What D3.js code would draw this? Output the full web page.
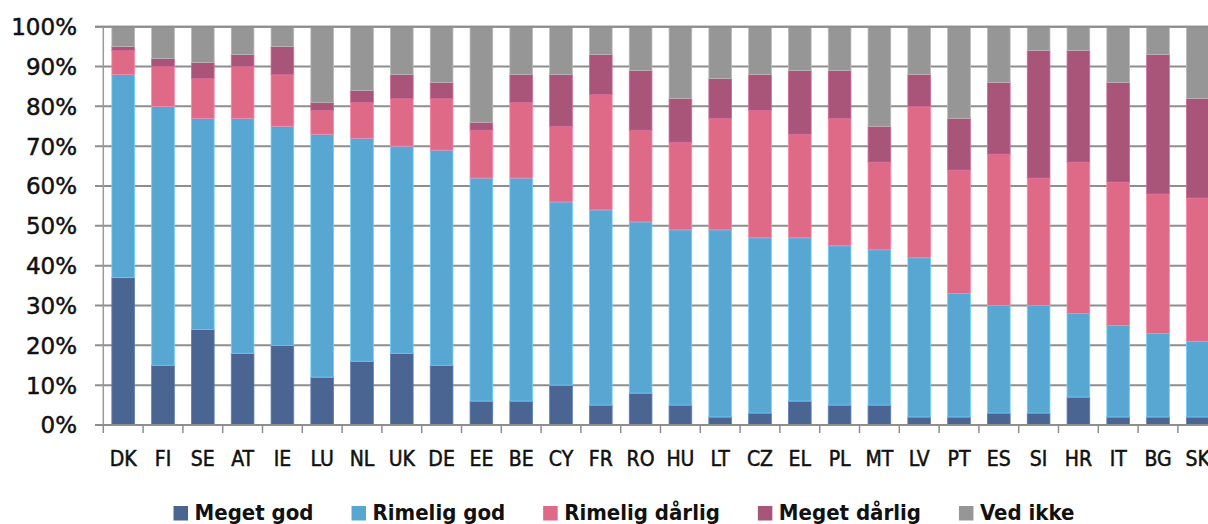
<!DOCTYPE html>
<html>
<head>
<meta charset="utf-8">
<script src="https://cdn.jsdelivr.net/npm/d3@7"></script>
<style>
  html, body { margin: 0; padding: 0; background: #fff; overflow: hidden; }
  svg { display: block; }
</style>
</head>
<body>
<svg id="chart" width="1208" height="524"></svg>
<script>
// Countries, ordered by the share answering "good"
const countries = ["DK","FI","SE","AT","IE","LU","NL","UK","DE","EE","BE","CY","FR","RO",
                   "HU","LT","CZ","EL","PL","MT","LV","PT","ES","SI","HR","IT","BG","SK"];

// Shares per answer (percent)
const megetGod       = [37,15,24,18,20,12,16,18,15, 6, 6,10, 5, 8, 5, 2, 3, 6, 5, 5, 2, 2, 3, 3, 7, 2, 2, 2];
const rimeligGod     = [51,65,53,59,55,61,56,52,54,56,56,46,49,43,44,47,44,41,40,39,40,31,27,27,21,23,21,19];
const rimeligDaarlig = [ 6,10,10,13,13, 6, 9,12,13,12,19,19,29,23,22,28,32,26,32,22,38,31,38,32,38,36,35,36];
const megetDaarlig   = [ 1, 2, 4, 3, 7, 2, 3, 6, 4, 2, 7,13,10,15,11,10, 9,16,12, 9, 8,13,18,32,28,25,35,25];
const vedIkke        = [ 5, 8, 9, 7, 5,19,16,12,14,24,12,12, 7,11,18,13,12,11,11,25,12,23,14, 6, 6,14, 7,18];

const seriesNames  = ["Meget god", "Rimelig god", "Rimelig dårlig", "Meget dårlig", "Ved ikke"];
const seriesValues = [megetGod, rimeligGod, rimeligDaarlig, megetDaarlig, vedIkke];
const seriesColors = ["#4a6592", "#58a7d3", "#de6a88", "#a85579", "#969696"];

const yTicks = [0,10,20,30,40,50,60,70,80,90,100];

const svg = d3.select("#chart");

// Plot area (runs a little past the right edge of the page)
const plotLeft = 103.3, step = 39.8;
const plotRight = plotLeft + step * countries.length;
const plotTop = 26.7, plotBottom = 425;

const x = d3.scaleBand().domain(countries).range([plotLeft, plotRight]).paddingInner(0.43).paddingOuter(0.215);
const y = d3.scaleLinear().domain([0, 100]).range([plotBottom, plotTop]);

const rows = countries.map((c, i) => {
  const r = { country: c };
  seriesNames.forEach((s, k) => { r[s] = seriesValues[k][i]; });
  return r;
});
const stacked = d3.stack().keys(seriesNames)(rows);

// Horizontal gridlines
svg.append("g")
  .selectAll("line")
  .data(yTicks)
  .join("line")
  .attr("x1", 95).attr("x2", plotRight)
  .attr("y1", d => y(d)).attr("y2", d => y(d))
  .attr("stroke", "#8e8e8e")
  .attr("stroke-width", 2);

// Vertical axis line
svg.append("line")
  .attr("x1", plotLeft).attr("x2", plotLeft)
  .attr("y1", plotTop).attr("y2", plotBottom)
  .attr("stroke", "#9a9a9a")
  .attr("stroke-width", 1.5);

// Stacked bars
svg.append("g")
  .selectAll("g")
  .data(stacked)
  .join("g")
  .attr("fill", (d, i) => seriesColors[i])
  .attr("stroke", (d, i) => d3.color(seriesColors[i]).brighter(0.6))
  .attr("stroke-width", 0.8)
  .selectAll("rect")
  .data(d => d)
  .join("rect")
  .attr("x", d => x(d.data.country))
  .attr("width", x.bandwidth())
  .attr("y", d => y(d[1]))
  .attr("height", d => y(d[0]) - y(d[1]));

// Top gridline sits over the bars
svg.append("line")
  .attr("x1", 95).attr("x2", plotRight)
  .attr("y1", y(100)).attr("y2", y(100))
  .attr("stroke", "#8e8e8e").attr("stroke-width", 2);

// Baseline and category ticks
svg.append("line")
  .attr("x1", 95).attr("x2", plotRight)
  .attr("y1", y(0)).attr("y2", y(0))
  .attr("stroke", "#8e8e8e").attr("stroke-width", 2);

svg.append("g")
  .selectAll("line")
  .data(d3.range(countries.length + 1))
  .join("line")
  .attr("x1", i => plotLeft + i * step).attr("x2", i => plotLeft + i * step)
  .attr("y1", plotBottom).attr("y2", plotBottom + 8)
  .attr("stroke", "#8e8e8e").attr("stroke-width", 1.5);

// Y-axis labels
svg.append("g")
  .selectAll("text")
  .data(yTicks)
  .join("text")
  .attr("x", 77)
  .attr("y", d => y(d) + 8.4)
  .attr("text-anchor", "end")
  .attr("font-family", "DejaVu Sans, Verdana, sans-serif")
  .attr("font-size", 23)
  .attr("fill", "#111")
  .attr("stroke", "#111")
  .attr("stroke-width", 0.5)
  .text(d => d + "%");

// Country labels
svg.append("g")
  .selectAll("text")
  .data(countries)
  .join("text")
  .attr("x", d => x(d) + x.bandwidth() / 2)
  .attr("y", 466)
  .attr("text-anchor", "middle")
  .attr("font-family", "DejaVu Sans Condensed, DejaVu Sans, sans-serif")
  .attr("font-size", 21)
  .attr("fill", "#111")
  .attr("stroke", "#111")
  .attr("stroke-width", 0.5)
  .text(d => d);

// Legend
const legend = svg.append("g").attr("font-family", "DejaVu Sans Condensed, DejaVu Sans, sans-serif")
  .attr("font-size", 22).attr("font-weight", "bold");
const items = legend.selectAll("g").data(seriesNames).join("g");
items.append("rect")
  .attr("y", 506).attr("width", 14.5).attr("height", 14.5)
  .attr("fill", (d, i) => seriesColors[i]);
items.append("text")
  .attr("x", 21).attr("y", 520)
  .attr("fill", "#111")
  .text(d => d);

let cursor = 0;
const offsets = [];
items.each(function () {
  const w = this.getBBox().width;
  offsets.push(cursor);
  cursor += w + 38;
});
const totalW = cursor - 38;
const startX = 624 - totalW / 2;
items.attr("transform", (d, i) => `translate(${startX + offsets[i]},0)`);
</script>
</body>
</html>
